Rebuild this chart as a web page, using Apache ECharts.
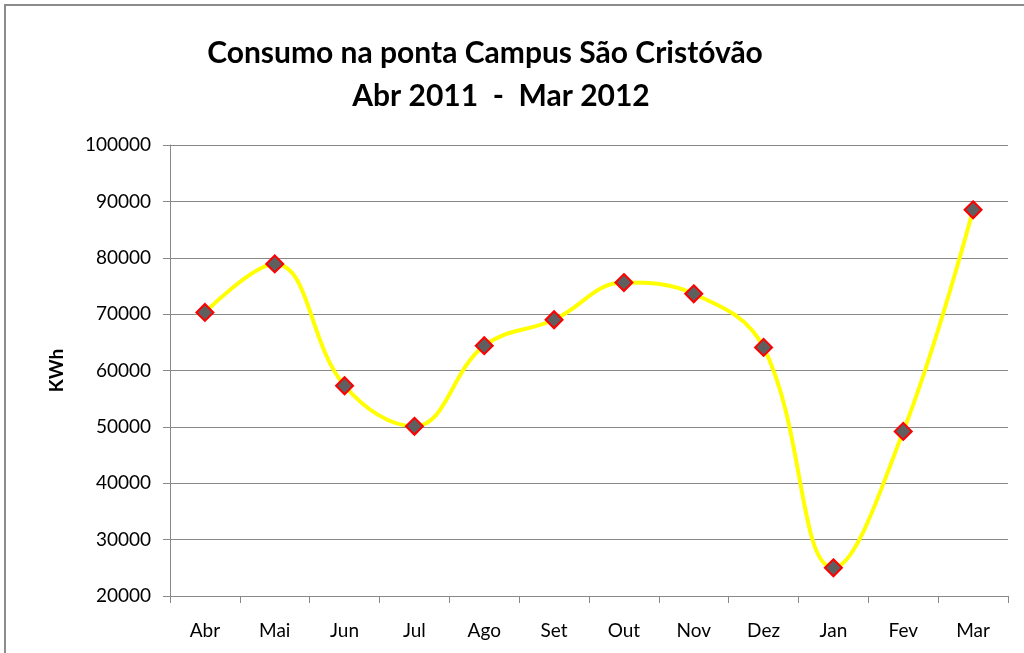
<!DOCTYPE html>
<html>
<head>
<meta charset="utf-8">
<title>Consumo na ponta</title>
<script src="https://cdn.jsdelivr.net/npm/echarts@6/dist/echarts.min.js"></script>
<style>
  html, body { margin: 0; padding: 0; background: #fff; }
  #main { position: absolute; left: 4px; top: 4px; width: 1030px; height: 660px;
          border: 2px solid #8c8c8c; box-sizing: border-box; }
</style>
</head>
<body>
<div id="main"></div>
<script>
var months = ['Abr', 'Mai', 'Jun', 'Jul', 'Ago', 'Set', 'Out', 'Nov', 'Dez', 'Jan', 'Fev', 'Mar'];
var consumo = [70300, 78900, 57300, 50100, 64400, 69000, 75600, 73600, 64100, 25000, 49200, 88500];
var yMin = 20000, yMax = 100000, yStep = 10000;

var chart = echarts.init(document.getElementById('main'));
var titleFont = { fontFamily: 'Lato', fontWeight: 'bold', fontSize: 30, color: '#000' };
chart.setOption({
    animation: false,
    title: [
        { text: 'Consumo na ponta Campus São Cristóvão', left: 474, top: 27, textAlign: 'center', textStyle: titleFont },
        { text: 'Abr 2011  -  Mar 2012', left: 490, top: 70, textAlign: 'center', textStyle: titleFont }
    ],
    grid: { left: 164, right: 24, top: 139, bottom: 66, containLabel: false },
    xAxis: {
        type: 'category',
        data: months,
        boundaryGap: true,
        axisLine: { lineStyle: { color: '#888', width: 1 } },
        axisTick: { show: true, length: 7, alignWithLabel: false, lineStyle: { color: '#888' } },
        axisLabel: { margin: 25, fontFamily: 'Lato', fontSize: 19, color: '#000' }
    },
    yAxis: {
        type: 'value',
        min: yMin, max: yMax, interval: yStep,
        name: 'KWh', nameLocation: 'middle', nameGap: 104, nameRotate: 90,
        nameTextStyle: { fontFamily: 'Lato', fontWeight: 'bold', fontSize: 19, color: '#000' },
        axisLine: { show: true, lineStyle: { color: '#888' } },
        axisTick: { show: true, length: 7, lineStyle: { color: '#888' } },
        axisLabel: { margin: 19, fontFamily: 'Lato', fontSize: 19, color: '#000',
                     formatter: function (v) { return String(v); } },
        splitLine: { lineStyle: { color: '#888', width: 1 } }
    },
    series: [{
        type: 'line',
        data: consumo,
        smooth: 0.4,
        symbol: 'diamond',
        symbolSize: 17,
        lineStyle: { color: '#ffff00', width: 4 },
        itemStyle: { color: '#5f5f5f', borderColor: '#ff0000', borderWidth: 2 }
    }]
});
</script>
</body>
</html>
